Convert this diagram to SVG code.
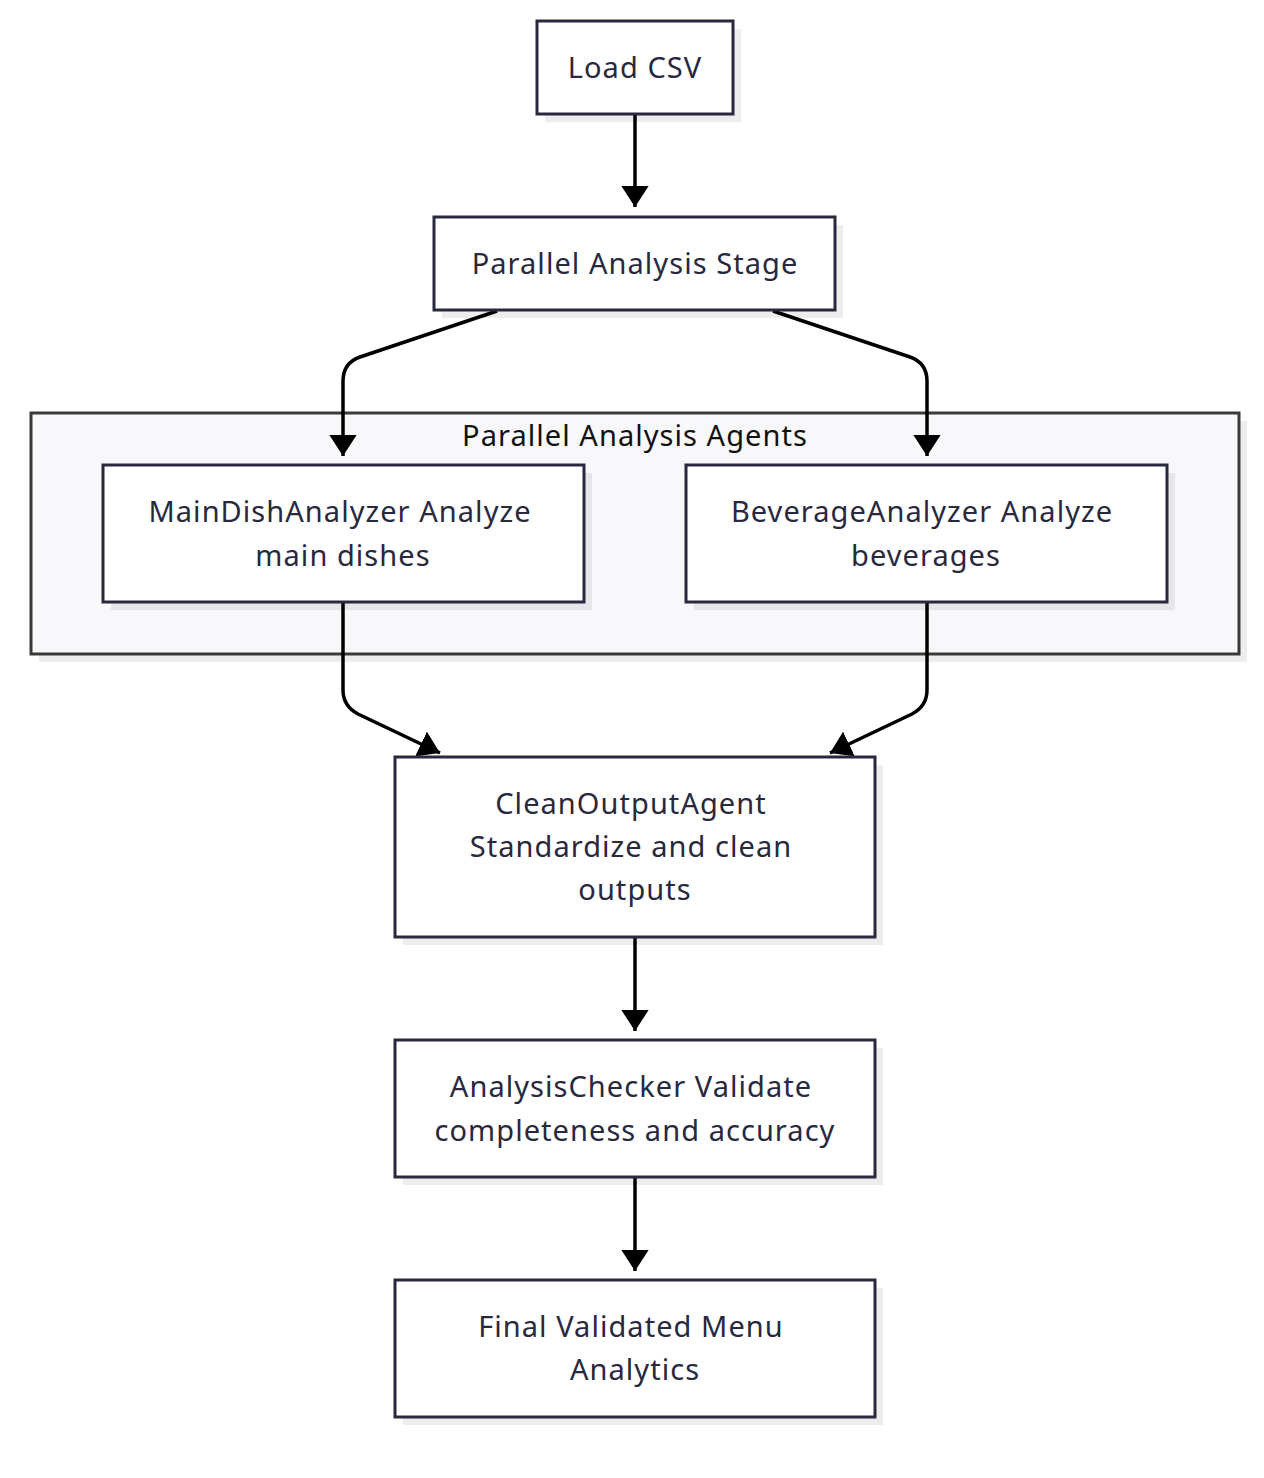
<svg xmlns="http://www.w3.org/2000/svg" width="1264" height="1478" viewBox="0 0 1264 1478">
<style>
.bg{fill:#ffffff}
.shadow{fill:#000000;fill-opacity:0.07}
.node{fill:#ffffff;stroke:#28283e;stroke-width:3}
.cluster{fill:#f8f8fa;stroke:#3a3a3a;stroke-width:3}
.lbl{font-family:"Noto Sans","Open Sans","DejaVu Sans",sans-serif;font-size:29px;letter-spacing:1.05px;fill:#28283e;text-anchor:middle}
.title{fill:#111111}
.edge{fill:none;stroke:#000000;stroke-width:3.5}
</style>
<defs>
<marker id="arrow" viewBox="0 0 10 13" refX="10" refY="6.5" markerWidth="6" markerHeight="7.8" markerUnits="strokeWidth" orient="auto">
<path d="M0,0 L10,6.5 L0,13 z" fill="#000000"/>
</marker>
</defs>
<rect class="bg" x="0" y="0" width="1264" height="1478"/>

<g id="cluster-parallel">
<rect class="shadow" x="39" y="421" width="1208" height="241"/>
<rect class="cluster" x="31" y="413" width="1208" height="241"/>
<text class="lbl title" x="635" y="446">Parallel Analysis Agents</text>
</g>

<g id="connectors">
<path class="edge" d="M635,115 L635,207" marker-end="url(#arrow)"/>
<path class="edge" d="M497,311 L360,357 Q343,363 343,381 L343,456" marker-end="url(#arrow)"/>
<path class="edge" d="M773,311 L910,357 Q927,363 927,381 L927,456" marker-end="url(#arrow)"/>
<path class="edge" d="M343,603 L343,690 Q343,706 358,714 L440,753" marker-end="url(#arrow)"/>
<path class="edge" d="M927,603 L927,690 Q927,706 912,714 L830,753" marker-end="url(#arrow)"/>
<path class="edge" d="M635,938 L635,1031" marker-end="url(#arrow)"/>
<path class="edge" d="M635,1178 L635,1271" marker-end="url(#arrow)"/>
</g>

<g id="node-load">
<rect class="shadow" x="545" y="29" width="196" height="93"/>
<rect class="node" x="537" y="21" width="196" height="93"/>
<text class="lbl" x="635" y="78">Load CSV</text>
</g>

<g id="node-stage">
<rect class="shadow" x="442" y="225" width="401" height="93"/>
<rect class="node" x="434" y="217" width="401" height="93"/>
<text class="lbl" x="635" y="274">Parallel Analysis Stage</text>
</g>

<g id="node-maindish">
<rect class="shadow" x="111" y="473" width="481" height="137"/>
<rect class="node" x="103" y="465" width="481" height="137"/>
<text class="lbl" x="340" y="522">MainDishAnalyzer Analyze</text>
<text class="lbl" x="343" y="566">main dishes</text>
</g>

<g id="node-beverage">
<rect class="shadow" x="694" y="473" width="481" height="137"/>
<rect class="node" x="686" y="465" width="481" height="137"/>
<text class="lbl" x="922" y="522">BeverageAnalyzer Analyze</text>
<text class="lbl" x="926" y="566">beverages</text>
</g>

<g id="node-clean">
<rect class="shadow" x="403" y="765" width="480" height="180"/>
<rect class="node" x="395" y="757" width="480" height="180"/>
<text class="lbl" x="631" y="814">CleanOutputAgent</text>
<text class="lbl" x="631" y="857">Standardize and clean</text>
<text class="lbl" x="635" y="900">outputs</text>
</g>

<g id="node-checker">
<rect class="shadow" x="403" y="1048" width="480" height="137"/>
<rect class="node" x="395" y="1040" width="480" height="137"/>
<text class="lbl" x="631" y="1097">AnalysisChecker Validate</text>
<text class="lbl" x="635" y="1141">completeness and accuracy</text>
</g>

<g id="node-final">
<rect class="shadow" x="403" y="1288" width="480" height="137"/>
<rect class="node" x="395" y="1280" width="480" height="137"/>
<text class="lbl" x="631" y="1337">Final Validated Menu</text>
<text class="lbl" x="635" y="1380">Analytics</text>
</g>
</svg>
